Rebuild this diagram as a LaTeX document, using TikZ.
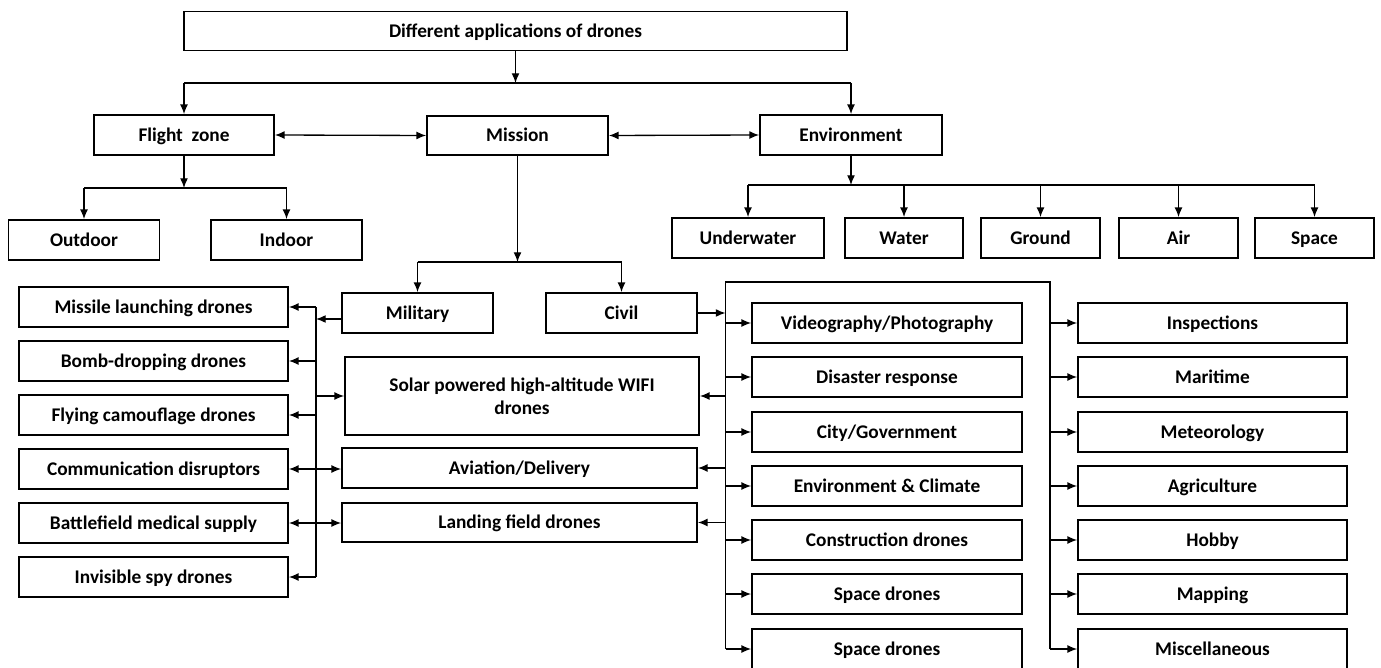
\documentclass[tikz,border=0pt]{standalone}
\usepackage{fontspec}
\setmainfont{Carlito}
\usetikzlibrary{arrows.meta,calc}

\begin{document}
\begin{tikzpicture}[x=0.02cm,y=-0.02cm,
  font=\fontsize{11}{13}\selectfont\bfseries,
  >={Latex[length=5.5pt,width=4.5pt]},
  appbox/.style 2 args={draw,line width=1pt,inner sep=0pt,align=center,
    text height=9pt,text depth=2pt,
    minimum width=#1*0.02cm,minimum height=#2*0.02cm},
  link/.style={line width=0.75pt},
  arr/.style={link,->},
  darr/.style={link,<->}]
\useasboundingbox (0,0) rectangle (1381,668);

\node[appbox={663}{39}] (top) at (515.5,31) {Different applications of drones};

\node[appbox={180}{40}] (fzone) at (184,135) {Flight\ \ zone};
\node[appbox={181}{39}] (mission) at (517.5,135.5) {Mission};
\node[appbox={182}{40}] (environ) at (851,135) {Environment};

\node[appbox={151}{40}] (outdoor) at (84,240) {Outdoor};
\node[appbox={151}{40}] (indoor) at (286.5,240) {Indoor};

\node[appbox={152}{40}] (underw) at (748,238) {Underwater};
\node[appbox={118}{40}] (water) at (904,238) {Water};
\node[appbox={119}{40}] (ground) at (1040.5,238) {Ground};
\node[appbox={119}{40}] (air) at (1178.5,238) {Air};
\node[appbox={119}{40}] (space) at (1314.5,238) {Space};

\node[appbox={151}{40}] (military) at (417.5,313) {Military};
\node[appbox={151}{40}] (civil) at (621.5,313) {Civil};

\node[appbox={269}{40}] (missile) at (153.5,307) {Missile launching drones};
\node[appbox={269}{40}] (bomb) at (153.5,361) {Bomb-dropping drones};
\node[appbox={269}{40}] (camo) at (153.5,415) {Flying camouflage drones};
\node[appbox={269}{40}] (comm) at (153.5,469) {Communication disruptors};
\node[appbox={269}{40}] (medic) at (153.5,523) {Battlefield medical supply};
\node[appbox={269}{40}] (spy) at (153.5,577) {Invisible spy drones};

\node[appbox={354}{78},text height=,text depth=] (solar) at (522,396) {Solar powered high-altitude WIFI\\drones};
\node[appbox={355}{40}] (aviat) at (519.5,468) {Aviation/Delivery};
\node[appbox={355}{39}] (landing) at (519.5,522.5) {Landing field drones};

\node[appbox={270}{40}] (video) at (887,323) {Videography/Photography};
\node[appbox={270}{40}] (disaster) at (887,377) {Disaster response};
\node[appbox={270}{40}] (city) at (887,432) {City/Government};
\node[appbox={270}{40}] (climate) at (887,486) {Environment \& Climate};
\node[appbox={270}{40}] (constr) at (887,540) {Construction drones};
\node[appbox={270}{40}] (spaceA) at (887,594) {Space drones};
\node[appbox={270}{40}] (spaceB) at (887,649) {Space drones};

\node[appbox={269}{40}] (inspect) at (1212.5,323) {Inspections};
\node[appbox={269}{40}] (marit) at (1212.5,377) {Maritime};
\node[appbox={269}{40}] (meteo) at (1212.5,432) {Meteorology};
\node[appbox={269}{40}] (agri) at (1212.5,486) {Agriculture};
\node[appbox={269}{40}] (hobby) at (1212.5,540) {Hobby};
\node[appbox={269}{40}] (mapping) at (1212.5,594) {Mapping};
\node[appbox={269}{40}] (misc) at (1212.5,649) {Miscellaneous};

\coordinate (tbus) at (515.5,83);
\coordinate (fbus) at (184,188);
\coordinate (ebus) at (851,185);
\coordinate (mbus) at (517.5,262);
\coordinate (lv1) at (316,307);
\coordinate (lv2) at (316,577);
\coordinate (cl) at (725.5,282);
\coordinate (cr) at (1050,282);

\draw[arr] (top.south) -- (tbus);
\draw[link] (fzone.north |- tbus) -- (environ.north |- tbus);
\draw[arr] (fzone.north |- tbus) -- (fzone.north);
\draw[arr] (environ.north |- tbus) -- (environ.north);
\draw[darr] (fzone.east) -- (mission.west);
\draw[darr] (mission.east) -- (environ.west);

\draw[arr] (fzone.south) -- (fbus);
\draw[link] (outdoor.north |- fbus) -- (indoor.north |- fbus);
\draw[arr] (outdoor.north |- fbus) -- (outdoor.north);
\draw[arr] (indoor.north |- fbus) -- (indoor.north);

\draw[arr] (environ.south) -- (ebus);
\draw[link] (underw.north |- ebus) -- (space.north |- ebus);
\foreach \n in {underw,water,ground,air,space}
  \draw[arr] (\n.north |- ebus) -- (\n.north);

\draw[arr] (mission.south) -- (mbus);
\draw[link] (military.north |- mbus) -- (civil.north |- mbus);
\draw[arr] (military.north |- mbus) -- (military.north);
\draw[arr] (civil.north |- mbus) -- (civil.north);

\draw[link] (lv1) -- (lv2);
\path ($(military.west)+(0,6)$) coordinate (milw);
\draw[arr] (milw) -- (lv1 |- milw);
\foreach \n in {missile,bomb,camo,spy}
  \draw[arr] (lv1 |- \n.east) -- (\n.east);
\draw[arr] (lv1 |- solar.west) -- (solar.west);
\draw[darr] (comm.east) -- (comm.east -| aviat.west);
\draw[darr] (medic.east) -- (medic.east -| landing.west);

\draw[link] (cl |- spaceB.west) -- (cl) -- (cr) -- (cr |- misc.west);
\draw[arr] (civil.east) -- (cl |- civil.east);
\foreach \n in {video,disaster,city,climate,constr,spaceA,spaceB}
  \draw[arr] (cl |- \n.west) -- (\n.west);
\foreach \n in {inspect,marit,meteo,agri,hobby,mapping,misc}
  \draw[arr] (cr |- \n.west) -- (\n.west);
\foreach \n in {solar,aviat,landing}
  \draw[arr] (cl |- \n.east) -- (\n.east);

\end{tikzpicture}
\end{document}
